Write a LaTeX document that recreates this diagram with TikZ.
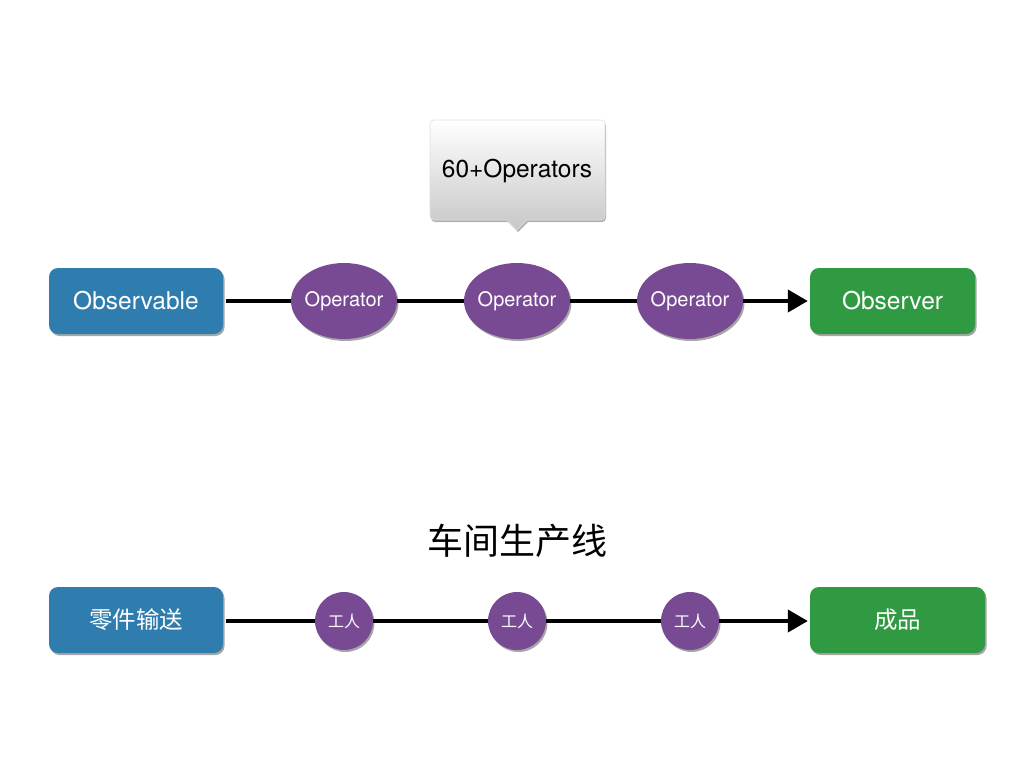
\documentclass[tikz,border=0pt]{standalone}
\usepackage{fontspec}
\setmainfont{TeX Gyre Heros}
\newfontfamily\cjk{Noto Sans CJK SC}
\usetikzlibrary{shapes.geometric,shadows,arrows.meta}
\definecolor{obsblue}{HTML}{2F7DAF}
\definecolor{obsgreen}{HTML}{2F9A42}
\definecolor{oppurple}{HTML}{784A94}
\newcommand{\opbox}[1]{\makebox[50pt][c]{#1}}
\tikzset{
  shad/.style={drop shadow={shadow xshift=1.5pt,shadow yshift=-2pt,opacity=0.35,fill=black}},
  srcbox/.style={shad,fill=obsblue,rounded corners=9pt,minimum width=174pt,minimum height=66pt,text=white,inner sep=0pt},
  dstbox/.style={shad,fill=obsgreen,rounded corners=9pt,minimum height=66pt,text=white,inner sep=0pt},
  opnode/.style={shad,ellipse,fill=oppurple,minimum width=106pt,minimum height=76pt,inner sep=0pt,text=white,font=\fontsize{20}{24}\selectfont},
  worker/.style={shad,circle,fill=oppurple,minimum size=58pt,inner sep=0pt,text=white,font=\cjk\fontsize{16}{18}\selectfont},
  flow/.style={line width=4pt,draw=black},
  tip/.style={-{Triangle[length=20pt,width=22pt]}}
}
\begin{document}
\begin{tikzpicture}[x=1pt,y=-1pt]
\useasboundingbox (0,0) rectangle (1024,768);
% callout
\shade[top color=white,bottom color=black!22,draw=black!12,line width=0.6pt,drop shadow={shadow xshift=1pt,shadow yshift=-2pt,opacity=0.3,fill=black}]
  (517,120) [rounded corners=4pt] -- (605,120) -- (605,220) [sharp corners] -- (527,220) -- (517,230) -- (507,220)
  [rounded corners=4pt] -- (430,220) -- (430,120) -- cycle;
\node[font=\fontsize{24.5}{28}\selectfont] (callout) at (517,171) {60+Operators};
% top row
\node[srcbox,font=\fontsize{24.5}{28}\selectfont] (obs) at (136,301) {Observable};
\node[dstbox,minimum width=165pt,font=\fontsize{24.5}{28}\selectfont] (obr) at (892.5,301) {Observer};
\node[opnode] (op1) at (344,301) {\opbox{Operator}};
\node[opnode] (op2) at (517,301) {\opbox{Operator}};
\node[opnode] (op3) at (690,301) {\opbox{Operator}};
% title
\node[font=\cjk\fontsize{36}{40}\selectfont] (title) at (517,541) {车间生产线};
% bottom row
\node[srcbox,font=\cjk\fontsize{23.5}{27}\selectfont] (parts) at (136,620) {零件输送};
\node[dstbox,minimum width=175pt,font=\cjk\fontsize{23.5}{27}\selectfont] (prod) at (897.5,620) {成品};
\node[worker] (w1) at (344,621) {工人};
\node[worker] (w2) at (517,621) {工人};
\node[worker] (w3) at (690,621) {工人};
% connectors
\draw[flow] ([xshift=3pt]obs.east) -- (op1.west);
\draw[flow] (op1.east) -- (op2.west);
\draw[flow] (op2.east) -- (op3.west);
\draw[flow,tip] (op3.east) -- ([xshift=-2pt]obr.west);
\draw[flow] ([xshift=3pt]parts.east|-w1) -- (w1.west);
\draw[flow] (w1.east) -- (w2.west);
\draw[flow] (w2.east) -- (w3.west);
\draw[flow,tip] (w3.east) -- ([xshift=-2pt]prod.west|-w3);
\end{tikzpicture}
\end{document}
